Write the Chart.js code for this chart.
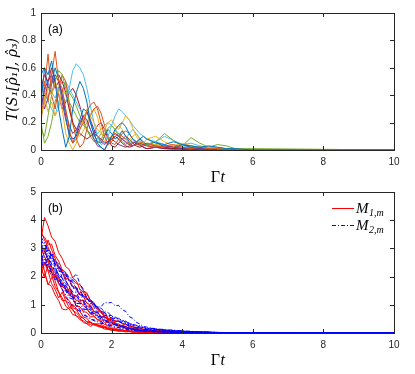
<!DOCTYPE html>
<html>
<head>
<meta charset="utf-8">
<script src="https://cdn.jsdelivr.net/npm/chart.js@4"></script>
<style>
  body { margin: 0; background: #fff; }
  .panel { position: absolute; left: 0; width: 415px; height: 187px; }
</style>
</head>
<body>
<div class="panel" style="top:0"><canvas id="chartA"></canvas></div>
<div class="panel" style="top:187px"><canvas id="chartB"></canvas></div>
<script>
// ---- panel (a): trace distance, sample times + traces ----
const timesA = [0, 0.1, 0.2, 0.3, 0.4, 0.5, 0.6, 0.7, 0.8, 0.9, 1.0, 1.1, 1.2, 1.3, 1.4, 1.5, 1.6, 1.7, 1.8, 1.9, 2.0,
  2.1, 2.2, 2.3, 2.4, 2.5, 2.6, 2.7, 2.8, 2.9, 3.0, 3.25, 3.5, 3.75, 4.0, 4.25, 4.5, 4.75, 5.0, 5.25, 5.5, 6, 10];

const blue1 = [0.35, 0.6, 0.55, 0.65, 0.5, 0.3, 0.15, 0.02, 0.1, 0.3, 0.42, 0.5, 0.45, 0.35, 0.2, 0.12, 0.05, 0.02, 0.0, 0.05, 0.1,
  0.15, 0.18, 0.2, 0.17, 0.12, 0.08, 0.06, 0.08, 0.1, 0.08, 0.05, 0.04, 0.06, 0.04, 0.03, 0.02, 0.03, 0.02, 0.01, 0.01, 0, 0];
const blue2 = [0.55, 0.6, 0.45, 0.5, 0.6, 0.52, 0.4, 0.25, 0.1, 0.05, 0.12, 0.22, 0.3, 0.28, 0.2, 0.12, 0.06, 0.05, 0.1, 0.15, 0.12,
  0.08, 0.1, 0.14, 0.1, 0.06, 0.03, 0.05, 0.08, 0.06, 0.04, 0.06, 0.02, 0.01, 0.04, 0.02, 0.01, 0.02, 0.01, 0.01, 0.005, 0, 0];
const orange1 = [0.4, 0.5, 0.35, 0.55, 0.72, 0.5, 0.45, 0.3, 0.15, 0.05, 0.08, 0.15, 0.2, 0.28, 0.33, 0.35, 0.3, 0.2, 0.1, 0.04, 0.06,
  0.1, 0.12, 0.1, 0.08, 0.05, 0.03, 0.04, 0.06, 0.05, 0.03, 0.02, 0.03, 0.04, 0.02, 0.01, 0.02, 0.01, 0.01, 0.005, 0, 0, 0];
const orange2 = [0.2, 0.45, 0.7, 0.4, 0.3, 0.45, 0.55, 0.5, 0.35, 0.2, 0.08, 0.02, 0.05, 0.15, 0.25, 0.3, 0.32, 0.27, 0.18, 0.1, 0.05,
  0.04, 0.08, 0.12, 0.14, 0.12, 0.08, 0.05, 0.03, 0.04, 0.05, 0.03, 0.02, 0.03, 0.01, 0.02, 0.01, 0.01, 0, 0, 0, 0, 0];
const yellow1 = [0.25, 0.35, 0.45, 0.4, 0.5, 0.42, 0.3, 0.12, 0.05, 0.0, 0.05, 0.15, 0.22, 0.3, 0.25, 0.2, 0.15, 0.12, 0.15, 0.2, 0.22,
  0.18, 0.15, 0.2, 0.25, 0.22, 0.16, 0.1, 0.06, 0.05, 0.08, 0.1, 0.06, 0.03, 0.05, 0.03, 0.02, 0.02, 0.01, 0.01, 0.01, 0, 0];
const yellow2 = [0.5, 0.38, 0.28, 0.35, 0.25, 0.3, 0.45, 0.4, 0.3, 0.18, 0.12, 0.1, 0.14, 0.2, 0.26, 0.3, 0.24, 0.14, 0.06, 0.04, 0.08,
  0.14, 0.18, 0.15, 0.1, 0.07, 0.1, 0.12, 0.09, 0.05, 0.03, 0.04, 0.03, 0.02, 0.02, 0.01, 0.02, 0.01, 0.01, 0, 0, 0, 0];
const purple1 = [0.3, 0.45, 0.5, 0.55, 0.45, 0.5, 0.4, 0.28, 0.18, 0.12, 0.15, 0.2, 0.25, 0.22, 0.15, 0.08, 0.03, 0.02, 0.0, 0.05, 0.1,
  0.12, 0.1, 0.08, 0.06, 0.04, 0.03, 0.04, 0.05, 0.04, 0.03, 0.02, 0.03, 0.02, 0.01, 0.01, 0.01, 0.005, 0, 0, 0, 0, 0];
const purple2 = [0.4, 0.3, 0.38, 0.48, 0.55, 0.5, 0.35, 0.22, 0.12, 0.08, 0.1, 0.18, 0.24, 0.28, 0.22, 0.15, 0.1, 0.06, 0.04, 0.06, 0.08,
  0.06, 0.04, 0.03, 0.02, 0.03, 0.05, 0.06, 0.04, 0.02, 0.01, 0.02, 0.01, 0.005, 0.01, 0.005, 0, 0, 0, 0, 0, 0, 0];
const green1 = [0.15, 0.1, 0.25, 0.4, 0.5, 0.58, 0.55, 0.45, 0.35, 0.3, 0.25, 0.2, 0.18, 0.15, 0.12, 0.08, 0.05, 0.08, 0.12, 0.16, 0.18,
  0.15, 0.1, 0.06, 0.04, 0.06, 0.08, 0.06, 0.04, 0.03, 0.04, 0.06, 0.12, 0.07, 0.03, 0.09, 0.05, 0.02, 0.04, 0.03, 0.01, 0.01, 0];
const green2 = [0.2, 0.05, 0.1, 0.2, 0.35, 0.45, 0.5, 0.48, 0.42, 0.38, 0.32, 0.25, 0.2, 0.15, 0.1, 0.06, 0.08, 0.12, 0.1, 0.08, 0.1,
  0.12, 0.1, 0.08, 0.05, 0.04, 0.06, 0.05, 0.04, 0.03, 0.05, 0.04, 0.03, 0.02, 0.04, 0.03, 0.02, 0.02, 0.01, 0.01, 0.01, 0, 0];
const cyan1 = [0.3, 0.45, 0.5, 0.42, 0.38, 0.45, 0.4, 0.35, 0.45, 0.58, 0.63, 0.6, 0.55, 0.45, 0.32, 0.2, 0.1, 0.04, 0.05, 0.1, 0.18,
  0.25, 0.3, 0.28, 0.25, 0.22, 0.18, 0.15, 0.12, 0.1, 0.08, 0.06, 0.1, 0.07, 0.04, 0.05, 0.03, 0.02, 0.02, 0.01, 0.01, 0, 0];
const cyan2 = [0.5, 0.42, 0.35, 0.3, 0.25, 0.35, 0.42, 0.5, 0.45, 0.4, 0.35, 0.3, 0.25, 0.2, 0.15, 0.1, 0.12, 0.15, 0.18, 0.2, 0.18,
  0.15, 0.12, 0.1, 0.08, 0.12, 0.15, 0.12, 0.08, 0.05, 0.04, 0.06, 0.04, 0.02, 0.03, 0.02, 0.02, 0.01, 0.01, 0.01, 0, 0, 0];
const wine1 = [0.45, 0.55, 0.5, 0.4, 0.52, 0.55, 0.5, 0.42, 0.3, 0.2, 0.15, 0.12, 0.1, 0.08, 0.1, 0.12, 0.1, 0.08, 0.05, 0.06, 0.08,
  0.1, 0.08, 0.05, 0.03, 0.02, 0.03, 0.05, 0.04, 0.02, 0.01, 0.02, 0.01, 0.01, 0.005, 0, 0, 0, 0, 0, 0, 0, 0];
const wine2 = [0.25, 0.35, 0.5, 0.6, 0.5, 0.4, 0.3, 0.35, 0.42, 0.45, 0.4, 0.32, 0.22, 0.15, 0.1, 0.12, 0.18, 0.2, 0.15, 0.08, 0.03,
  0.02, 0.05, 0.08, 0.1, 0.08, 0.05, 0.03, 0.02, 0.03, 0.04, 0.03, 0.02, 0.01, 0.01, 0.01, 0, 0, 0, 0, 0, 0, 0];

const tracesA = [blue1, orange1, yellow1, purple1, green1, cyan1, wine1, blue2, orange2, yellow2, purple2, green2, cyan2, wine2];
const colorsA = ['#0072BD', '#D95319', '#EDB120', '#7E2F8E', '#77AC30', '#4DBEEE', '#A2142F'];
const yTicksA = [0, 0.2, 0.4, 0.6, 0.8, 1];

// ---- panel (b): M_{1,m} (red) and M_{2,m} (blue) ----
const timesB = [0, 0.1, 0.2, 0.3, 0.4, 0.5, 0.6, 0.7, 0.8, 0.9, 1.0, 1.1, 1.2, 1.3, 1.4, 1.5, 1.6, 1.7, 1.8, 1.9, 2.0,
  2.1, 2.2, 2.3, 2.4, 2.5, 2.6, 2.7, 2.8, 2.9, 3.0, 3.25, 3.5, 3.75, 4.0, 4.25, 4.5, 4.75, 5.0, 6, 10];

const m1 = [
  [3.3, 4.1, 3.8, 3.4, 3.25, 2.85, 2.65, 2.35, 2.25, 1.95, 1.85, 1.55, 1.45, 1.2, 1.15, 0.9, 0.88, 0.72, 0.68, 0.52, 0.52, 0.43, 0.42, 0.33, 0.31, 0.25, 0.23, 0.19, 0.18, 0.14, 0.13, 0.1, 0.08, 0.06, 0.05, 0.04, 0.03, 0.02, 0.015, 0.005, 0],
  [2.0, 2.5, 2.2, 1.75, 1.55, 1.25, 1.45, 1.15, 1.05, 0.8, 0.72, 0.58, 0.52, 0.4, 0.4, 0.3, 0.3, 0.23, 0.21, 0.17, 0.16, 0.12, 0.13, 0.1, 0.09, 0.08, 0.07, 0.06, 0.05, 0.04, 0.04, 0.03, 0.02, 0.02, 0.01, 0.01, 0.01, 0.005, 0.005, 0, 0],
  [3.5, 3.4, 3.15, 3.15, 2.75, 2.55, 2.25, 2.15, 1.85, 1.9, 1.75, 1.72, 1.5, 1.42, 1.15, 1.03, 0.82, 0.73, 0.57, 0.52, 0.4, 0.37, 0.28, 0.26, 0.21, 0.19, 0.14, 0.13, 0.1, 0.08, 0.07, 0.05, 0.04, 0.03, 0.02, 0.02, 0.01, 0.01, 0.01, 0, 0],
  [2.6, 2.2, 1.7, 1.95, 2.1, 1.75, 1.55, 1.25, 1.15, 0.9, 0.83, 0.62, 0.53, 0.38, 0.37, 0.28, 0.27, 0.2, 0.19, 0.14, 0.13, 0.09, 0.1, 0.07, 0.07, 0.05, 0.05, 0.04, 0.03, 0.03, 0.02, 0.02, 0.01, 0.01, 0.01, 0.005, 0.005, 0, 0, 0, 0],
  [2.8, 3.0, 2.55, 2.35, 1.95, 1.95, 1.65, 1.55, 1.35, 1.25, 0.95, 0.93, 0.76, 0.73, 0.57, 0.58, 0.47, 0.47, 0.38, 0.37, 0.28, 0.3, 0.23, 0.21, 0.17, 0.16, 0.12, 0.12, 0.09, 0.1, 0.08, 0.06, 0.05, 0.04, 0.03, 0.02, 0.02, 0.01, 0.01, 0, 0],
  [2.3, 2.0, 2.4, 2.15, 2.05, 1.75, 1.65, 1.7, 1.45, 1.35, 1.15, 1.13, 0.96, 0.88, 0.67, 0.62, 0.47, 0.42, 0.3, 0.27, 0.18, 0.17, 0.12, 0.11, 0.07, 0.07, 0.04, 0.05, 0.03, 0.03, 0.02, 0.02, 0.01, 0.01, 0.01, 0.005, 0, 0, 0, 0, 0],
  [3.0, 2.7, 2.5, 2.15, 1.85, 1.45, 1.25, 0.95, 0.85, 0.65, 0.62, 0.47, 0.43, 0.33, 0.31, 0.33, 0.27, 0.26, 0.19, 0.16, 0.11, 0.11, 0.07, 0.08, 0.05, 0.05, 0.04, 0.03, 0.03, 0.02, 0.02, 0.01, 0.01, 0.01, 0.005, 0, 0, 0, 0, 0, 0],
  [2.5, 2.9, 3.3, 2.95, 2.65, 2.25, 2.15, 1.85, 1.65, 1.35, 1.32, 1.42, 1.48, 1.38, 1.17, 1.08, 0.87, 0.78, 0.57, 0.52, 0.38, 0.35, 0.26, 0.24, 0.17, 0.16, 0.11, 0.11, 0.07, 0.08, 0.06, 0.05, 0.04, 0.03, 0.02, 0.02, 0.01, 0.01, 0.005, 0, 0],
  [1.9, 2.1, 1.75, 1.65, 1.35, 1.15, 0.85, 0.82, 0.88, 1.02, 0.87, 0.77, 0.57, 0.52, 0.37, 0.32, 0.23, 0.21, 0.14, 0.13, 0.09, 0.09, 0.06, 0.07, 0.04, 0.05, 0.03, 0.04, 0.02, 0.03, 0.02, 0.01, 0.01, 0.01, 0.005, 0.005, 0, 0, 0, 0, 0],
  [3.6, 3.3, 3.05, 2.75, 2.55, 2.35, 2.25, 1.95, 1.9, 1.65, 1.6, 1.35, 1.3, 1.05, 1.0, 0.77, 0.73, 0.59, 0.57, 0.45, 0.42, 0.33, 0.32, 0.24, 0.23, 0.18, 0.18, 0.14, 0.13, 0.1, 0.09, 0.07, 0.06, 0.05, 0.04, 0.03, 0.03, 0.02, 0.015, 0.005, 0],
  [2.2, 2.5, 2.25, 2.05, 1.65, 1.45, 1.15, 1.15, 0.9, 0.85, 0.6, 0.55, 0.37, 0.33, 0.23, 0.32, 0.33, 0.32, 0.23, 0.21, 0.14, 0.13, 0.09, 0.09, 0.05, 0.06, 0.04, 0.04, 0.03, 0.03, 0.02, 0.02, 0.01, 0.01, 0.01, 0.005, 0, 0, 0, 0, 0],
  [2.7, 2.4, 2.65, 2.25, 2.15, 1.85, 1.8, 1.55, 1.55, 1.3, 1.3, 1.15, 1.15, 0.95, 0.95, 0.75, 0.74, 0.57, 0.58, 0.47, 0.47, 0.4, 0.42, 0.33, 0.31, 0.23, 0.21, 0.16, 0.15, 0.11, 0.1, 0.08, 0.06, 0.05, 0.04, 0.03, 0.02, 0.02, 0.01, 0, 0]
];
const m2 = [
  [3.0, 3.2, 2.85, 2.75, 2.45, 2.35, 2.15, 2.05, 1.85, 1.8, 1.55, 1.5, 1.25, 1.25, 1.05, 1.02, 0.92, 0.93, 1.08, 1.07, 1.08, 0.97, 0.98, 0.82, 0.77, 0.58, 0.52, 0.38, 0.32, 0.23, 0.21, 0.15, 0.12, 0.09, 0.07, 0.05, 0.04, 0.03, 0.02, 0.005, 0],
  [2.8, 2.6, 2.75, 2.45, 2.35, 2.05, 1.95, 1.75, 1.65, 1.45, 1.43, 1.2, 1.13, 0.92, 0.88, 0.72, 0.72, 0.57, 0.57, 0.47, 0.47, 0.4, 0.42, 0.36, 0.36, 0.28, 0.26, 0.19, 0.18, 0.14, 0.12, 0.1, 0.08, 0.06, 0.05, 0.04, 0.03, 0.02, 0.01, 0.005, 0],
  [2.5, 2.7, 2.35, 2.25, 2.3, 2.05, 1.95, 1.65, 1.6, 1.35, 1.33, 1.15, 1.08, 0.87, 0.82, 0.67, 0.62, 0.48, 0.46, 0.38, 0.36, 0.28, 0.28, 0.21, 0.21, 0.16, 0.15, 0.11, 0.1, 0.09, 0.07, 0.06, 0.05, 0.04, 0.03, 0.02, 0.02, 0.01, 0.01, 0, 0],
  [3.3, 3.1, 2.75, 2.65, 2.35, 2.05, 1.55, 1.35, 1.05, 0.98, 0.82, 0.78, 0.62, 0.6, 0.47, 0.47, 0.4, 0.4, 0.33, 0.31, 0.25, 0.23, 0.19, 0.18, 0.14, 0.14, 0.1, 0.1, 0.08, 0.07, 0.06, 0.05, 0.04, 0.03, 0.03, 0.02, 0.01, 0.01, 0.005, 0, 0],
  [2.9, 3.1, 2.95, 2.85, 2.55, 2.45, 2.15, 2.15, 1.95, 1.95, 2.1, 1.75, 1.55, 1.25, 1.2, 0.97, 0.93, 0.77, 0.73, 0.57, 0.54, 0.43, 0.42, 0.33, 0.31, 0.24, 0.23, 0.17, 0.16, 0.11, 0.1, 0.08, 0.06, 0.05, 0.04, 0.03, 0.02, 0.02, 0.01, 0.005, 0],
  [2.4, 2.6, 2.25, 2.15, 1.9, 1.85, 1.55, 1.5, 1.25, 1.2, 0.95, 0.93, 0.82, 0.83, 0.72, 0.73, 0.6, 0.57, 0.46, 0.42, 0.33, 0.31, 0.24, 0.23, 0.17, 0.16, 0.12, 0.12, 0.08, 0.09, 0.07, 0.05, 0.04, 0.03, 0.03, 0.02, 0.01, 0.01, 0.005, 0, 0],
  [3.1, 2.9, 2.6, 2.8, 2.45, 2.35, 1.95, 1.85, 1.65, 1.65, 1.45, 1.4, 1.15, 1.1, 0.92, 0.88, 0.75, 0.73, 0.62, 0.62, 0.53, 0.52, 0.43, 0.42, 0.33, 0.33, 0.27, 0.26, 0.21, 0.19, 0.15, 0.12, 0.1, 0.08, 0.06, 0.05, 0.04, 0.03, 0.02, 0.005, 0],
  [2.6, 2.9, 2.65, 2.45, 2.15, 2.0, 1.7, 1.6, 1.35, 1.3, 1.05, 1.04, 0.86, 0.83, 0.69, 0.68, 0.55, 0.52, 0.42, 0.4, 0.31, 0.31, 0.27, 0.27, 0.23, 0.21, 0.15, 0.14, 0.1, 0.08, 0.07, 0.05, 0.04, 0.03, 0.02, 0.02, 0.01, 0.01, 0.005, 0, 0],
  [3.4, 3.2, 2.95, 2.75, 2.45, 2.4, 2.15, 2.1, 1.85, 1.85, 1.6, 1.55, 1.3, 1.25, 1.05, 1.03, 0.89, 0.88, 0.75, 0.73, 0.59, 0.57, 0.48, 0.47, 0.38, 0.37, 0.28, 0.27, 0.21, 0.2, 0.16, 0.13, 0.1, 0.08, 0.06, 0.05, 0.04, 0.03, 0.02, 0.005, 0],
  [2.7, 2.5, 2.65, 2.35, 2.25, 1.95, 1.85, 1.55, 1.45, 1.15, 1.05, 0.82, 0.73, 0.57, 0.53, 0.43, 0.42, 0.34, 0.33, 0.26, 0.25, 0.19, 0.19, 0.14, 0.14, 0.1, 0.1, 0.08, 0.07, 0.06, 0.05, 0.04, 0.03, 0.02, 0.02, 0.01, 0.01, 0.005, 0, 0, 0],
  [3.0, 2.8, 2.95, 2.55, 2.45, 2.2, 2.15, 1.9, 1.85, 1.6, 1.55, 1.35, 1.33, 1.15, 1.13, 0.96, 0.93, 0.77, 0.73, 0.62, 0.62, 0.52, 0.52, 0.43, 0.42, 0.33, 0.31, 0.27, 0.26, 0.19, 0.18, 0.15, 0.12, 0.1, 0.08, 0.06, 0.05, 0.04, 0.02, 0.01, 0],
  [2.5, 2.3, 2.45, 2.15, 2.05, 1.8, 1.75, 1.5, 1.45, 1.25, 1.23, 1.05, 1.03, 0.86, 0.83, 0.69, 0.67, 0.55, 0.52, 0.4, 0.37, 0.28, 0.26, 0.19, 0.18, 0.13, 0.13, 0.09, 0.09, 0.07, 0.06, 0.05, 0.04, 0.03, 0.02, 0.02, 0.01, 0.01, 0.005, 0, 0]
];
const yTicksB = [0, 1, 2, 3, 4, 5];
const xTicks = [0, 2, 4, 6, 8, 10];
const legendB = ['M', '1,m', 'M', '2,m'];

const ink = '#262626';
const tickFont = { family: '"Liberation Sans", Arial, sans-serif', size: 10 };

function points(times, vals) {
  return times.map((t, i) => ({ x: t, y: vals[i] }));
}

// MATLAB-like box, inward ticks, panel tag and Γt label
const matlabBox = {
  id: 'matlabBox',
  afterDatasetsDraw(chart, args, opts) {
    const { ctx, chartArea: a, scales: { x, y } } = chart;
    ctx.save();
    ctx.strokeStyle = ink;
    ctx.lineWidth = 1;
    ctx.beginPath();
    x.ticks.forEach(t => {
      const px = Math.round(x.getPixelForValue(t.value)) + 0.5;
      ctx.moveTo(px, a.bottom); ctx.lineTo(px, a.bottom - 4);
      ctx.moveTo(px, a.top); ctx.lineTo(px, a.top + 4);
    });
    y.ticks.forEach(t => {
      const py = Math.round(y.getPixelForValue(t.value)) + 0.5;
      ctx.moveTo(a.left, py); ctx.lineTo(a.left + 4, py);
      ctx.moveTo(a.right, py); ctx.lineTo(a.right - 4, py);
    });
    ctx.stroke();
    ctx.strokeRect(Math.round(a.left) + 0.5, Math.round(a.top) + 0.5, Math.round(a.right - a.left), Math.round(a.bottom - a.top));

    ctx.fillStyle = '#000';
    ctx.font = '12px "Liberation Sans", Arial, sans-serif';
    ctx.textBaseline = 'alphabetic';
    ctx.textAlign = 'left';
    ctx.fillText(opts.tag, a.left + 7, a.top + 20);

    // x label: upright Gamma + italic t
    const cx = (a.left + a.right) / 2;
    ctx.font = '16px "Liberation Serif", serif';
    const wG = ctx.measureText('Γ').width;
    ctx.font = 'italic 16px "Liberation Serif", serif';
    const wt = ctx.measureText('t').width;
    const x0 = cx - (wG + wt) / 2;
    ctx.font = '16px "Liberation Serif", serif';
    ctx.fillText('Γ', x0, opts.xLabelY);
    ctx.font = 'italic 16px "Liberation Serif", serif';
    ctx.fillText('t', x0 + wG + 0.5, opts.xLabelY);

    if (opts.yLabel) {
      ctx.translate(17, (a.top + a.bottom) / 2 - 2);
      ctx.rotate(-Math.PI / 2);
      ctx.textAlign = 'center';
      ctx.font = 'italic 14px "DejaVu Serif", serif';
      ctx.fillText(opts.yLabel, 0, 0);
    }
    ctx.restore();
  }
};

// legend drawn inside the top-right corner of panel (b)
const legendPlugin = {
  id: 'legendB',
  afterDraw(chart, args, opts) {
    if (!opts.show) return;
    const { ctx, chartArea: a } = chart;
    ctx.save();
    const rows = [
      { color: '#FF0000', dash: [], y: a.top + 16, main: legendB[0], sub: legendB[1] },
      { color: '#0000FF', dash: [4, 2, 1, 2], y: a.top + 33, main: legendB[2], sub: legendB[3] }
    ];
    rows.forEach(r => {
      ctx.strokeStyle = r.color;
      ctx.lineWidth = 1;
      ctx.setLineDash(r.dash);
      ctx.beginPath();
      ctx.moveTo(a.right - 62, r.y + 0.5);
      ctx.lineTo(a.right - 40, r.y + 0.5);
      ctx.stroke();
      ctx.setLineDash([]);
      ctx.fillStyle = '#000';
      ctx.textAlign = 'left';
      ctx.font = 'italic 15px "Liberation Serif", serif';
      ctx.fillText(r.main, a.right - 38, r.y + 5);
      const w = ctx.measureText(r.main).width;
      ctx.font = 'italic 10px "Liberation Serif", serif';
      ctx.fillText(r.sub, a.right - 38 + w + 0.5, r.y + 8);
    });
    ctx.restore();
  }
};

function scalesFor(yMax, yTicks, xHeight) {
  return {
    x: {
      type: 'linear', min: 0, max: 10,
      grid: { display: false, drawTicks: false },
      border: { display: false },
      ticks: { padding: 6, color: ink, font: tickFont, maxRotation: 0, callback: v => String(v) },
      afterBuildTicks: s => { s.ticks = xTicks.map(v => ({ value: v })); },
      afterFit: s => { s.height = xHeight; s.paddingLeft = 0; s.paddingRight = 0; }
    },
    y: {
      min: 0, max: yMax,
      grid: { display: false, drawTicks: false },
      border: { display: false },
      ticks: { padding: 5, color: ink, font: tickFont, callback: v => String(v) },
      afterBuildTicks: s => { s.ticks = yTicks.map(v => ({ value: v })); },
      afterFit: s => { s.width = 41; s.paddingTop = 0; s.paddingBottom = 0; }
    }
  };
}

const dsA = tracesA.map((tr, i) => ({
  data: points(timesA, tr),
  borderColor: colorsA[i % colorsA.length],
  borderWidth: 1,
  pointRadius: 0,
  tension: 0
}));

new Chart(document.getElementById('chartA'), {
  type: 'line',
  data: { datasets: dsA },
  options: {
    responsive: true, maintainAspectRatio: false, animation: false,
    layout: { padding: { top: 13, right: 21, left: 0, bottom: 0 } },
    scales: scalesFor(1, yTicksA, 37),
    plugins: {
      legend: { display: false }, tooltip: { enabled: false },
      matlabBox: { tag: '(a)', xLabelY: 182, yLabel: 'T(S\u2081[\u03C1\u0302\u2081], \u03C1\u0302\u2083)' },
      legendB: { show: false }
    }
  },
  plugins: [matlabBox, legendPlugin]
});

const dsB = [];
m2.forEach(tr => dsB.push({
  data: points(timesB, tr), borderColor: '#0000FF', borderWidth: 1, borderDash: [4, 2, 1, 2], pointRadius: 0, tension: 0
}));
m1.forEach(tr => dsB.push({
  data: points(timesB, tr), borderColor: '#FF0000', borderWidth: 1, pointRadius: 0, tension: 0
}));

new Chart(document.getElementById('chartB'), {
  type: 'line',
  data: { datasets: dsB },
  options: {
    responsive: true, maintainAspectRatio: false, animation: false,
    layout: { padding: { top: 5, right: 21, left: 0, bottom: 0 } },
    scales: scalesFor(5, yTicksB, 41),
    plugins: {
      legend: { display: false }, tooltip: { enabled: false },
      matlabBox: { tag: '(b)', xLabelY: 178, yLabel: null },
      legendB: { show: true }
    }
  },
  plugins: [matlabBox, legendPlugin]
});
</script>
</body>
</html>
